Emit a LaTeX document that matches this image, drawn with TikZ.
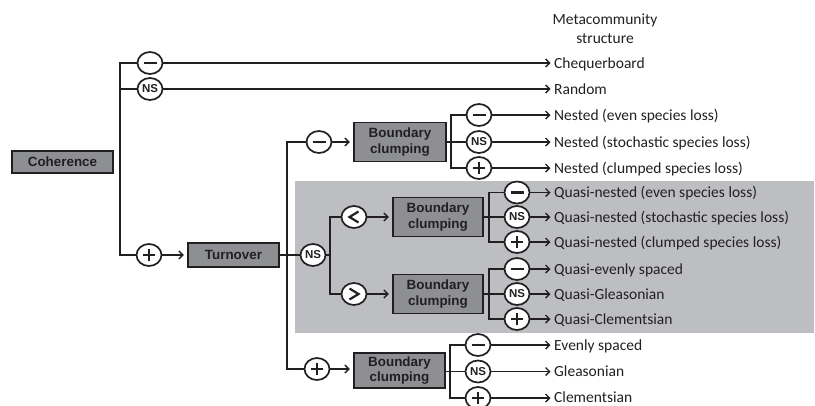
\documentclass[tikz,border=0pt]{standalone}
\usepackage{fontspec}
\setmainfont{Carlito}
\newfontfamily\boxfont{Liberation Sans}
\usetikzlibrary{arrows.meta,shapes.geometric}

\definecolor{ink}{HTML}{231F20}
\definecolor{boxgray}{HTML}{8E8F92}
\definecolor{bandgray}{HTML}{BDBEC1}

\tikzset{
  factor/.style={draw=ink, fill=boxgray, line width=1.4pt, inner sep=0pt,
    font=\boxfont\bfseries\fontsize{13.4}{15.5}\selectfont, text=ink, align=center},
  sign/.style={ellipse, draw=ink, fill=white, line width=1.7pt, inner sep=0pt,
    minimum width=25pt, minimum height=22pt},
  minus/.style={sign, path picture={
    \draw[ink, line width=2.8pt] ([xshift=-6.5pt]path picture bounding box.center) -- ++(13,0);}},
  plus/.style={sign, path picture={
    \draw[ink, line width=2.6pt] ([xshift=-6pt]path picture bounding box.center) -- ++(12,0);
    \draw[ink, line width=2.6pt] ([yshift=-6pt]path picture bounding box.center) -- ++(0,-12);}},
  less/.style={sign, path picture={
    \draw[ink, line width=2.2pt, line join=miter]
      ([xshift=4.5pt,yshift=5.5pt]path picture bounding box.center) -- ++(-9,5.5) -- ++(9,5.5);}},
  more/.style={sign, path picture={
    \draw[ink, line width=2.2pt, line join=miter]
      ([xshift=-4.5pt,yshift=5.5pt]path picture bounding box.center) -- ++(9,5.5) -- ++(-9,5.5);}},
  ns/.style={sign, text=ink, font=\boxfont\bfseries\fontsize{11.5}{11.5}\selectfont},
  link/.style={draw=ink, line width=1.4pt},
  arr/.style={link, -{Straight Barb[length=4pt,width=8pt,line width=1.4pt]}, shorten >=3.5pt},
  outcome/.style={anchor=base west, inner sep=0pt, text=ink, font=\fontsize{15.5}{18}\selectfont},
}

\begin{document}
\begin{tikzpicture}[x=1pt, y=-1pt]
\useasboundingbox (0,0) rectangle (815,405);

% shaded band holding the quasi structures
\fill[bandgray] (295,181) rectangle (814,333);

% header
\node[align=center, text=ink, font=\fontsize{15.5}{19}\selectfont] (head) at (605,29) {Metacommunity\\structure};

% decision boxes
\node[factor, minimum width=101pt, minimum height=22pt] (coh) at (62.5,162) {Coherence};
\node[factor, minimum width=91pt, minimum height=24pt] (turn) at (233.5,255) {Turnover};
\node[factor, minimum width=92pt, minimum height=39pt] (bcA) at (400,142) {Boundary\\clumping};
\node[factor, minimum width=90pt, minimum height=39pt] (bcB) at (438,217) {Boundary\\clumping};
\node[factor, minimum width=90pt, minimum height=39pt] (bcC) at (438,294) {Boundary\\clumping};
\node[factor, minimum width=91pt, minimum height=35pt] (bcD) at (399.5,370.5) {Boundary\\clumping};

% trunk positions
\coordinate (tA) at (120,0);
\coordinate (tB) at (287,0);
\coordinate (tC) at (451,0);
\coordinate (tD) at (330,0);
\coordinate (tE) at (489,0);
\coordinate (tF) at (450,0);

% coherence outcomes
\node[minus] (cm) at (150,63) {};
\node[ns] (cn) at (150,89) {NS};
\node[plus] (cp) at (149,255) {};

% turnover outcomes
\node[minus] (tm) at (319,142) {};
\node[ns] (tn) at (313,255) {NS};
\node[plus] (tp) at (317,369) {};

% quasi split
\node[less] (lt) at (354,217) {};
\node[more] (gt) at (354,294) {};

% boundary clumping outcomes
\node[minus] (am) at (479,115) {};
\node[ns] (an) at (479,142) {NS};
\node[plus] (ap) at (479,168) {};

\node[minus] (bm) at (517,192.5) {};
\node[ns] (bn) at (517,217) {NS};
\node[plus] (bp) at (517,242) {};

\node[minus] (qm) at (517,269) {};
\node[ns] (qn) at (517,294) {NS};
\node[plus] (qp) at (517,319) {};

\node[minus] (dm) at (478,345) {};
\node[ns] (dn) at (478,371.5) {NS};
\node[plus] (dp) at (478,398) {};

% structure names
\node[outcome] (o1) at (554,68) {Chequerboard};
\node[outcome] (o2) at (554,94) {Random};
\node[outcome] (o3) at (554,120) {Nested (even species loss)};
\node[outcome] (o4) at (554,147) {Nested (stochastic species loss)};
\node[outcome] (o5) at (554,173) {Nested (clumped species loss)};
\node[outcome] (o6) at (554,197.5) {Quasi-nested (even species loss)};
\node[outcome] (o7) at (554,222) {Quasi-nested (stochastic species loss)};
\node[outcome] (o8) at (554,247) {Quasi-nested (clumped species loss)};
\node[outcome] (o9) at (554,274) {Quasi-evenly spaced};
\node[outcome] (o10) at (554,299) {Quasi-Gleasonian};
\node[outcome] (o11) at (554,324) {Quasi-Clementsian};
\node[outcome] (o12) at (554,350) {Evenly spaced};
\node[outcome] (o13) at (554,376.5) {Gleasonian};
\node[outcome] (o14) at (554,402) {Clementsian};

% coherence trunk
\draw[link] (cm.west) -- (cm.west -| tA) |- (cp.west);
\draw[link] (cn.west) -- (cn.west -| tA);
\draw[arr] (cm.east) -- (cm.east -| o1.west);
\draw[arr] (cn.east) -- (cn.east -| o2.west);
\draw[arr] (cp.east) -- (cp.east -| turn.west);

% turnover trunk
\draw[link] (turn.east) -- (tn.west);
\draw[link] (tm.west) -- (tm.west -| tB) |- (tp.west);
\draw[arr] (tm.east) -- (tm.east -| bcA.west);
\draw[arr] (tp.east) -- (tp.east -| bcD.west);

% nested branch
\draw[link] (am.west) -- (am.west -| tC) |- (ap.west);
\draw[link] (bcA.east |- an.west) -- (an.west);
\draw[arr] (am.east) -- (am.east -| o3.west);
\draw[arr] (an.east) -- (an.east -| o4.west);
\draw[arr] (ap.east) -- (ap.east -| o5.west);

% quasi branch
\draw[link] (lt.west) -- (lt.west -| tD) |- (gt.west);
\draw[link] (tn.east) -- (tn.east -| tD);
\draw[arr] (lt.east) -- (lt.east -| bcB.west);
\draw[arr] (gt.east) -- (gt.east -| bcC.west);

\draw[link] (bm.west) -- (bm.west -| tE) |- (bp.west);
\draw[link] (bcB.east |- bn.west) -- (bn.west);
\draw[arr] (bm.east) -- (bm.east -| o6.west);
\draw[arr] (bn.east) -- (bn.east -| o7.west);
\draw[arr] (bp.east) -- (bp.east -| o8.west);

\draw[link] (qm.west) -- (qm.west -| tE) |- (qp.west);
\draw[link] (bcC.east |- qn.west) -- (qn.west);
\draw[arr] (qm.east) -- (qm.east -| o9.west);
\draw[arr] (qn.east) -- (qn.east -| o10.west);
\draw[arr] (qp.east) -- (qp.east -| o11.west);

% turnover-positive branch
\draw[link] (dm.west) -- (dm.west -| tF) |- (dp.west);
\draw[link] (bcD.east |- dn.west) -- (dn.west);
\draw[arr] (dm.east) -- (dm.east -| o12.west);
\draw[arr] (dn.east) -- (dn.east -| o13.west);
\draw[arr] (dp.east) -- (dp.east -| o14.west);
\end{tikzpicture}
\end{document}
